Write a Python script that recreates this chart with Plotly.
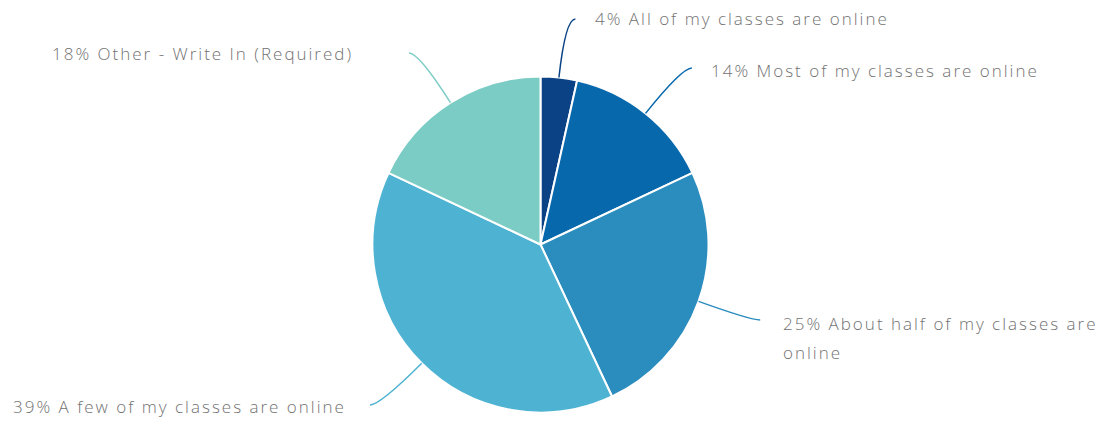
import math
import plotly.graph_objects as go

# ---- data ----
categories = [
    "All of my classes are online",
    "Most of my classes are online",
    "About half of my classes are online",
    "A few of my classes are online",
    "Other - Write In (Required)",
]
values = [3.5, 14.5, 25, 39, 18]
pct_labels = ["4%", "14%", "25%", "39%", "18%"]
colors = ["#0a4285", "#0868ac", "#2b8cbe", "#4eb3d3", "#7bccc4"]

# ---- layout helpers (pixels) ----
W, H = 1107, 422
CX, CY, R = 540.5, 244.5, 168
label_lines = [
    ["All of my classes are online"],
    ["Most of my classes are online"],
    ["About half of my classes are", "online"],
    ["A few of my classes are online"],
    ["Other - Write In (Required)"],
]
label_left = [593, 709, 781, 11, 50]
label_y = [19, 70, 323, 406, 53]
leader_y = [19, 68, 320, 405, 53]
HOOK = 10
LINE_GAP = 29

def px(x):
    return x / W

def py(y):
    return 1 - y / H

fig = go.Figure(go.Pie(
    labels=categories,
    values=values,
    sort=False,
    direction="clockwise",
    rotation=0,
    textinfo="none",
    hoverinfo="label+percent",
    marker=dict(colors=colors, line=dict(color="white", width=2)),
    domain=dict(x=[px(CX - R), px(CX + R)], y=[py(CY + R), py(CY - R)]),
    showlegend=False,
))

total = sum(values)
cum = 0
shapes = []
annotations = []
for i, v in enumerate(values):
    mid = (cum + v / 2) / total * 2 * math.pi
    cum += v
    dx, dy = math.sin(mid), -math.cos(mid)
    x0, y0 = CX + R * dx, CY + R * dy
    ly = leader_y[i]
    t = (ly - y0) / dy
    x1 = x0 + dx * t
    side = 1 if dx >= 0 else -1
    x2 = x1 + side * HOOK
    path = f"M {px(x0)},{py(y0)} Q {px(x1)},{py(ly)} {px(x2)},{py(ly)}"
    shapes.append(dict(type="path", path=path, xref="paper", yref="paper",
                       line=dict(color=colors[i], width=1.5)))
    lines = list(label_lines[i])
    lines[0] = f"{pct_labels[i]} {lines[0]}"
    for j, line in enumerate(lines):
        annotations.append(dict(
            text=line, x=px(label_left[i]), y=py(label_y[i] + j * LINE_GAP),
            xref="paper", yref="paper", xanchor="left", yanchor="middle",
            align="left", showarrow=False,
            font=dict(family="Open Sans", size=17, color="#727272", weight=300),
        ))

fig.update_layout(
    width=W, height=H,
    margin=dict(l=0, r=0, t=0, b=0),
    paper_bgcolor="white",
    plot_bgcolor="white",
    shapes=shapes,
    annotations=annotations,
)

post = """
document.body.style.margin = '0';
document.querySelectorAll('.annotation-text').forEach(function(e){
  e.setAttribute('text-anchor', 'start');
  e.style.letterSpacing = '2px';
});
"""
fig.write_html("out.html", post_script=post, config={"displayModeBar": False})
